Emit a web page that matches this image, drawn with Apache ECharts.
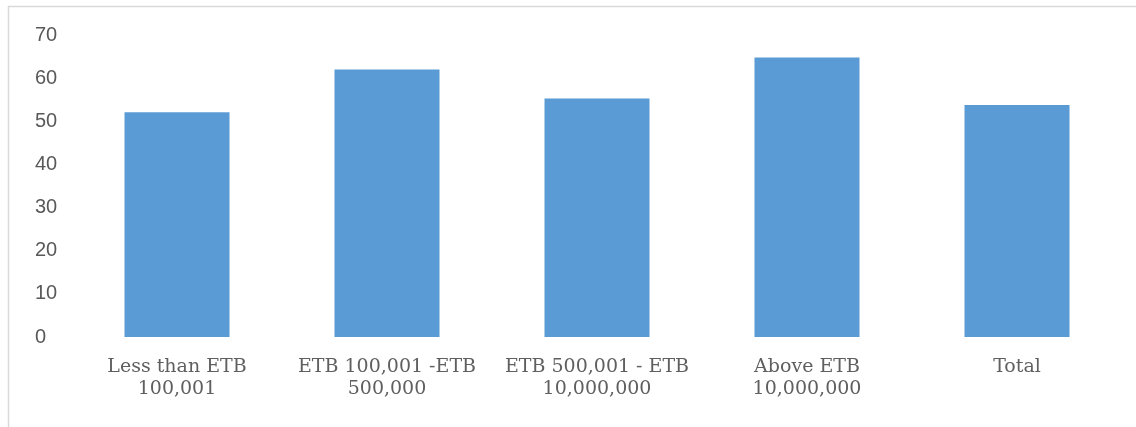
<!DOCTYPE html>
<html>
<head>
<meta charset="utf-8">
<script src="https://cdn.jsdelivr.net/npm/echarts@6/dist/echarts.min.js"></script>
<style>
  html, body { margin: 0; padding: 0; background: #fff; }
  #chart { width: 1136px; height: 427px; }
</style>
</head>
<body>
<div id="chart"></div>
<script>
const categories = [
  'Less than ETB\n100,001',
  'ETB 100,001 -ETB\n500,000',
  'ETB 500,001 - ETB\n10,000,000',
  'Above ETB\n10,000,000',
  'Total'
]
const values = [52.1, 62, 55.3, 64.8, 53.8]
const yMin = 0
const yMax = 70
const yStep = 10

const chart = echarts.init(document.getElementById('chart'))

chart.setOption({
  animation: false,
  backgroundColor: '#ffffff',
  graphic: [{
    type: 'rect',
    shape: { x: 8.5, y: 6.5, width: 1400, height: 600 },
    style: { fill: 'none', stroke: '#d9d9d9', lineWidth: 1.5 },
    silent: true
  }],
  grid: { left: 72, right: 14, top: 35, bottom: 90 },
  xAxis: {
    type: 'category',
    data: categories,
    axisLine: { show: false },
    axisTick: { show: false },
    axisLabel: {
      color: '#5f5f5f',
      fontFamily: 'DejaVu Serif',
      fontSize: 19,
      lineHeight: 22,
      margin: 19,
      interval: 0
    }
  },
  yAxis: {
    type: 'value',
    min: yMin,
    max: yMax,
    interval: yStep,
    axisLine: { show: false },
    axisTick: { show: false },
    splitLine: { show: false },
    axisLabel: {
      color: '#595959',
      fontFamily: 'Liberation Sans',
      fontSize: 20,
      align: 'left',
      margin: 37
    }
  },
  series: [{
    type: 'bar',
    data: values,
    barWidth: '50%',
    itemStyle: { color: '#5b9bd5' }
  }]
})
</script>
</body>
</html>
